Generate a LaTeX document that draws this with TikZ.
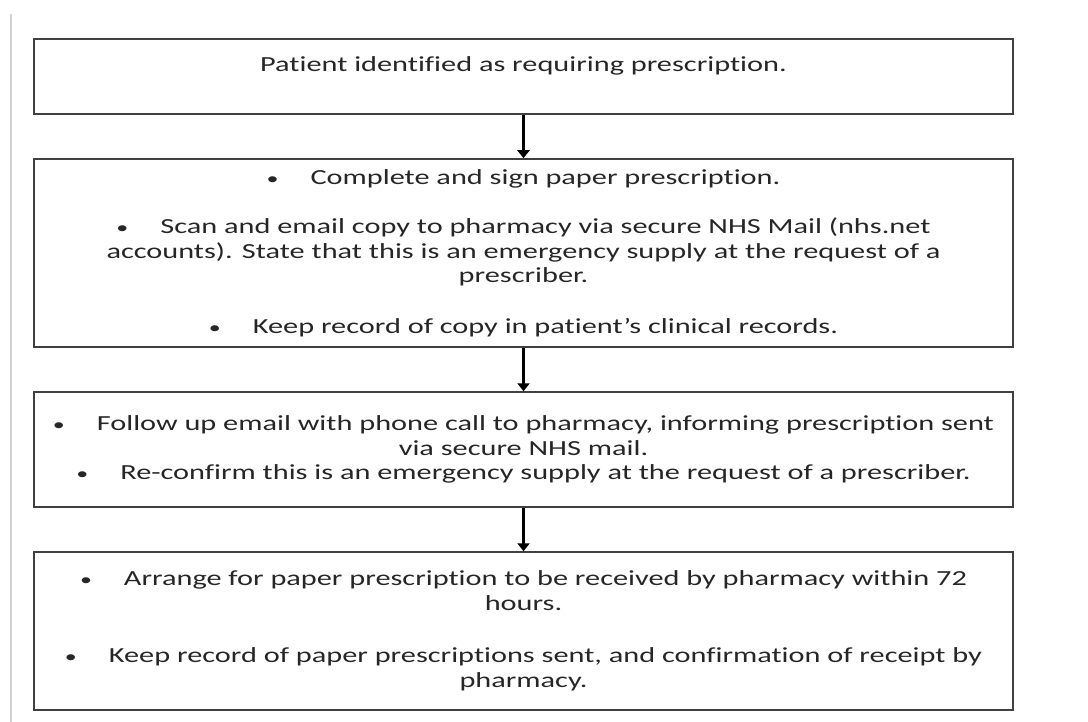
\documentclass[tikz,border=0pt]{standalone}
\usepackage{fontspec}
\setmainfont{Carlito}[FakeStretch=1.41, RawFeature={-liga}]
\usetikzlibrary{positioning,
        arrows.meta}

\newcommand{\bul}{{\fontsize{17}{24.5}\selectfont •}\hspace{32pt}}

\begin{document}
\begin{tikzpicture}[x=1pt, y=-1pt,
        box/.style={draw=black!75, line width=1.5pt, minimum width=979pt, align=center,
            text=black!85, font=\fontsize{21.5}{24.5}\selectfont},
        flow/.style={-{Triangle[width=12pt,length=8pt]}, line width=2.5pt}]
            \useasboundingbox (0,0) rectangle (1088,722);
            \draw [black!18, line width=2pt] (11,14) -- (11,722);

            \node [box, minimum height=75pt] (patient) at (523.5,76.5) {Patient identified as requiring prescription.\\ \mbox{}};
            \node [box, minimum height=188pt] (sign) at (523.5,253) {\bul Complete and sign paper prescription.\\[25pt]
                \bul Scan and email copy to pharmacy via secure NHS Mail (nhs.net\\
                accounts). State that this is an emergency supply at the request of a\\
                prescriber.\\[26pt]
                \bul Keep record of copy in patient’s clinical records.};
            \node [box, minimum height=115pt] (phone) at (523.5,449.5) {\bul Follow up email with phone call to pharmacy, informing prescription sent\\
                via secure NHS mail.\\
                \bul Re-confirm this is an emergency supply at the request of a prescriber.};
            \node [box, minimum height=158pt] (paper) at (523.5,631) {\bul Arrange for paper prescription to be received by pharmacy within 72\\
                hours.\\[28pt]
                \bul Keep record of paper prescriptions sent, and confirmation of receipt by\\
                pharmacy.};

            \draw [flow] (patient) -- (sign);
            \draw [flow] (sign) -- (phone);
            \draw [flow] (phone) -- (paper);
        \end{tikzpicture}
\end{document}
